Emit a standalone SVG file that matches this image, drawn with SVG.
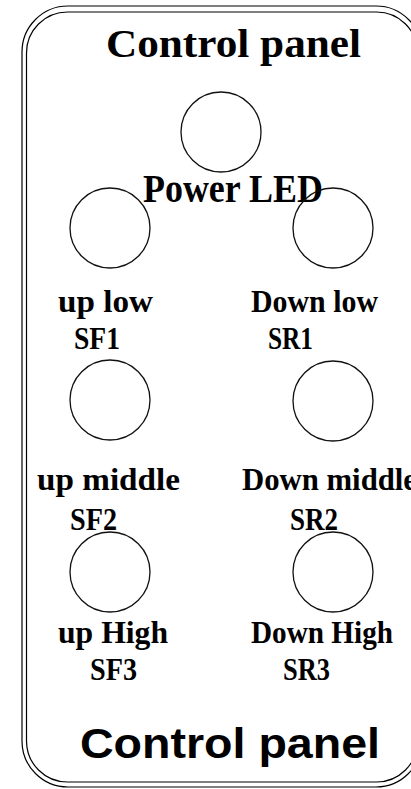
<svg xmlns="http://www.w3.org/2000/svg" width="411" height="789" viewBox="0 0 411 789">
<style>
.frame{fill:none;stroke:#000;stroke-width:1.2}
.btn{fill:none;stroke:#111;stroke-width:1.3}
.lbl{font-family:"Liberation Serif","Times New Roman",serif;font-weight:bold;fill:#000}
.big{font-size:40px}
.sm{font-size:32px}
.title{font-family:"Liberation Sans",Arial,sans-serif;font-weight:bold;font-size:43px;fill:#000}
</style>
<rect width="411" height="789" fill="#fff"/>
<g id="panel-outline">
<rect class="frame" x="22" y="6" width="400" height="781" rx="46" ry="46"/>
<rect class="frame" x="26.5" y="12" width="391" height="770" rx="41" ry="41"/>
</g>
<g id="header">
<text class="lbl big" x="106" y="57" textLength="255" lengthAdjust="spacingAndGlyphs">Control panel</text>
</g>
<g id="power-led">
<circle class="btn" cx="221" cy="132" r="40"/>
<text class="lbl big" x="143" y="202" textLength="180" lengthAdjust="spacingAndGlyphs">Power LED</text>
</g>
<g id="sf1">
<circle class="btn" cx="110" cy="228" r="40"/>
<text class="lbl sm" x="58" y="312" textLength="95" lengthAdjust="spacingAndGlyphs">up low</text>
<text class="lbl sm" x="74" y="349" textLength="46" lengthAdjust="spacingAndGlyphs">SF1</text>
</g>
<g id="sr1">
<circle class="btn" cx="333" cy="228" r="40"/>
<text class="lbl sm" x="251" y="312" textLength="127" lengthAdjust="spacingAndGlyphs">Down low</text>
<text class="lbl sm" x="268" y="349" textLength="45" lengthAdjust="spacingAndGlyphs">SR1</text>
</g>
<g id="sf2">
<circle class="btn" cx="110" cy="400" r="40"/>
<text class="lbl sm" x="37" y="490" textLength="143" lengthAdjust="spacingAndGlyphs">up middle</text>
<text class="lbl sm" x="70" y="530" textLength="47" lengthAdjust="spacingAndGlyphs">SF2</text>
</g>
<g id="sr2">
<circle class="btn" cx="333" cy="401" r="40"/>
<text class="lbl sm" x="242" y="490" textLength="175" lengthAdjust="spacingAndGlyphs">Down middle</text>
<text class="lbl sm" x="290" y="530" textLength="48" lengthAdjust="spacingAndGlyphs">SR2</text>
</g>
<g id="sf3">
<circle class="btn" cx="110" cy="572" r="40"/>
<text class="lbl sm" x="58" y="643" textLength="110" lengthAdjust="spacingAndGlyphs">up High</text>
<text class="lbl sm" x="90" y="680" textLength="47" lengthAdjust="spacingAndGlyphs">SF3</text>
</g>
<g id="sr3">
<circle class="btn" cx="333" cy="572" r="40"/>
<text class="lbl sm" x="251" y="643" textLength="142" lengthAdjust="spacingAndGlyphs">Down High</text>
<text class="lbl sm" x="283" y="680" textLength="47" lengthAdjust="spacingAndGlyphs">SR3</text>
</g>
<g id="footer">
<text class="title" x="80" y="758" textLength="300" lengthAdjust="spacingAndGlyphs">Control panel</text>
</g>
<g id="connectors"/>
</svg>
